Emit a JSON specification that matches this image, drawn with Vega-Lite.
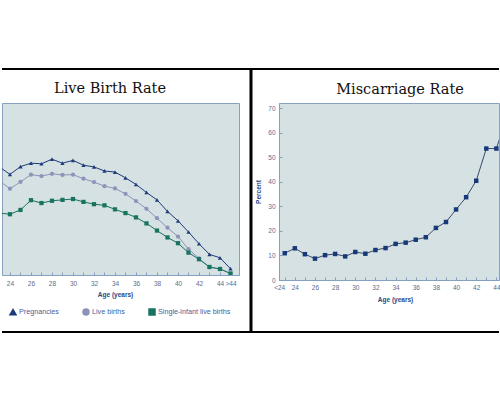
{
  "$schema": "https://vega.github.io/schema/vega-lite/v6.json",
  "background": "white",
  "padding": {"left": 0, "top": 67, "right": 0, "bottom": 0},
  "spacing": -5,
  "datasets": {
    "birth": [
      {"age": 23, "series": "Pregnancies", "rate": 37.7},
      {"age": 24, "series": "Pregnancies", "rate": 35.1},
      {"age": 25, "series": "Pregnancies", "rate": 37.8},
      {"age": 26, "series": "Pregnancies", "rate": 39.0},
      {"age": 27, "series": "Pregnancies", "rate": 38.8},
      {"age": 28, "series": "Pregnancies", "rate": 40.4},
      {"age": 29, "series": "Pregnancies", "rate": 39.0},
      {"age": 30, "series": "Pregnancies", "rate": 40.0},
      {"age": 31, "series": "Pregnancies", "rate": 38.3},
      {"age": 32, "series": "Pregnancies", "rate": 37.7},
      {"age": 33, "series": "Pregnancies", "rate": 36.3},
      {"age": 34, "series": "Pregnancies", "rate": 35.9},
      {"age": 35, "series": "Pregnancies", "rate": 33.9},
      {"age": 36, "series": "Pregnancies", "rate": 31.6},
      {"age": 37, "series": "Pregnancies", "rate": 28.8},
      {"age": 38, "series": "Pregnancies", "rate": 26.2},
      {"age": 39, "series": "Pregnancies", "rate": 22.2},
      {"age": 40, "series": "Pregnancies", "rate": 18.9},
      {"age": 41, "series": "Pregnancies", "rate": 15.0},
      {"age": 42, "series": "Pregnancies", "rate": 10.9},
      {"age": 43, "series": "Pregnancies", "rate": 7.2},
      {"age": 44, "series": "Pregnancies", "rate": 6.0},
      {"age": 45, "series": "Pregnancies", "rate": 2.2},
      {"age": 23, "series": "Live births", "rate": 32.8},
      {"age": 24, "series": "Live births", "rate": 30.1},
      {"age": 25, "series": "Live births", "rate": 32.5},
      {"age": 26, "series": "Live births", "rate": 35.0},
      {"age": 27, "series": "Live births", "rate": 34.5},
      {"age": 28, "series": "Live births", "rate": 35.3},
      {"age": 29, "series": "Live births", "rate": 34.9},
      {"age": 30, "series": "Live births", "rate": 35.0},
      {"age": 31, "series": "Live births", "rate": 33.6},
      {"age": 32, "series": "Live births", "rate": 32.4},
      {"age": 33, "series": "Live births", "rate": 31.0},
      {"age": 34, "series": "Live births", "rate": 30.2},
      {"age": 35, "series": "Live births", "rate": 28.3},
      {"age": 36, "series": "Live births", "rate": 25.8},
      {"age": 37, "series": "Live births", "rate": 23.1},
      {"age": 38, "series": "Live births", "rate": 19.8},
      {"age": 39, "series": "Live births", "rate": 16.5},
      {"age": 40, "series": "Live births", "rate": 13.4},
      {"age": 41, "series": "Live births", "rate": 9.0},
      {"age": 42, "series": "Live births", "rate": 5.8},
      {"age": 43, "series": "Live births", "rate": 2.7},
      {"age": 44, "series": "Live births", "rate": 2.1},
      {"age": 45, "series": "Live births", "rate": 0.6},
      {"age": 23, "series": "Single-infant live births", "rate": 21.6},
      {"age": 24, "series": "Single-infant live births", "rate": 21.2},
      {"age": 25, "series": "Single-infant live births", "rate": 22.7},
      {"age": 26, "series": "Single-infant live births", "rate": 26.1},
      {"age": 27, "series": "Single-infant live births", "rate": 25.1},
      {"age": 28, "series": "Single-infant live births", "rate": 25.9},
      {"age": 29, "series": "Single-infant live births", "rate": 26.2},
      {"age": 30, "series": "Single-infant live births", "rate": 26.5},
      {"age": 31, "series": "Single-infant live births", "rate": 25.5},
      {"age": 32, "series": "Single-infant live births", "rate": 24.7},
      {"age": 33, "series": "Single-infant live births", "rate": 24.3},
      {"age": 34, "series": "Single-infant live births", "rate": 22.9},
      {"age": 35, "series": "Single-infant live births", "rate": 21.6},
      {"age": 36, "series": "Single-infant live births", "rate": 20.1},
      {"age": 37, "series": "Single-infant live births", "rate": 18.0},
      {"age": 38, "series": "Single-infant live births", "rate": 15.5},
      {"age": 39, "series": "Single-infant live births", "rate": 13.1},
      {"age": 40, "series": "Single-infant live births", "rate": 11.1},
      {"age": 41, "series": "Single-infant live births", "rate": 7.8},
      {"age": 42, "series": "Single-infant live births", "rate": 5.5},
      {"age": 43, "series": "Single-infant live births", "rate": 2.8},
      {"age": 44, "series": "Single-infant live births", "rate": 2.1},
      {"age": 45, "series": "Single-infant live births", "rate": 0.5}
    ],
    "misc": [
      {"age": 23, "rate": 10.9},
      {"age": 24, "rate": 12.9},
      {"age": 25, "rate": 10.5},
      {"age": 26, "rate": 8.7},
      {"age": 27, "rate": 10.1},
      {"age": 28, "rate": 10.6},
      {"age": 29, "rate": 9.6},
      {"age": 30, "rate": 11.4},
      {"age": 31, "rate": 10.7},
      {"age": 32, "rate": 12.2},
      {"age": 33, "rate": 13.0},
      {"age": 34, "rate": 14.7},
      {"age": 35, "rate": 15.2},
      {"age": 36, "rate": 16.4},
      {"age": 37, "rate": 17.4},
      {"age": 38, "rate": 21.2},
      {"age": 39, "rate": 23.6},
      {"age": 40, "rate": 28.7},
      {"age": 41, "rate": 33.7},
      {"age": 42, "rate": 40.4},
      {"age": 43, "rate": 53.5},
      {"age": 44, "rate": 53.5},
      {"age": 45, "rate": 66.0}
    ]
  },
  "hconcat": [
    {
      "width": 237,
      "height": 172,
      "title": {"text": "Live Birth Rate", "font": "DejaVu Serif", "fontSize": 14.5, "fontWeight": "normal", "color": "#111111", "anchor": "middle", "dx": -10.5, "baseline": "alphabetic", "offset": -39},
      "layer": [
        {
          "data": {"values": [{}]},
          "mark": {"type": "rule", "stroke": "black", "strokeWidth": 2},
          "encoding": {
            "x": {"datum": 23.24, "type": "quantitative", "scale": {"domain": [23.24, 45.81]}},
            "x2": {"datum": 47.0},
            "y": {"datum": 71.86, "type": "quantitative", "scale": {"domain": [0, 60]}, "axis": null}
          }
        },
        {
          "data": {"values": [{}]},
          "mark": {"type": "rule", "stroke": "black", "strokeWidth": 2},
          "encoding": {
            "x": {"datum": 23.24, "type": "quantitative", "scale": {"domain": [23.24, 45.81]}},
            "x2": {"datum": 47.0},
            "y": {"datum": -19.88, "type": "quantitative", "scale": {"domain": [0, 60]}, "axis": null}
          }
        },
        {
          "data": {"values": [{}]},
          "mark": {"type": "rule", "stroke": "black", "strokeWidth": 2},
          "encoding": {
            "x": {"datum": 47.0, "type": "quantitative", "scale": {"domain": [23.24, 45.81]}},
            "y": {"datum": 71.86, "type": "quantitative", "scale": {"domain": [0, 60]}, "axis": null},
            "y2": {"datum": -19.88}
          }
        },
        {
          "data": {"name": "birth"},
          "mark": {"type": "line", "strokeWidth": 1, "clip": true},
          "encoding": {
            "x": {"field": "age", "type": "quantitative", "scale": {"domain": [23.24, 45.81]},
              "axis": {"title": "Age (years)", "values": [24,25,26,27,28,29,30,31,32,33,34,35,36,37,38,39,40,41,42,43,44,45], "tickCount": 100, "format": "d",
                "labelExpr": "datum.value == 23 ? '<24' : datum.value == 45 ? '>44' : (datum.value % 2 == 0 ? datum.label : '')",
                "labelOverlap": false, "labelFlush": false, "labelPadding": 8, "titleX": 113, "titleY": 21.5, "titleBaseline": "alphabetic", "titleAnchor": "middle", "titleAlign": "center"}},
            "y": {"field": "rate", "type": "quantitative", "scale": {"domain": [0, 60]}, "axis": null},
            "color": {"field": "series", "type": "nominal", "scale": {"domain": ["Pregnancies", "Live births", "Single-infant live births"], "range": ["#1f3b7a", "#8d93b9", "#187360"]},
              "legend": {"title": null, "orient": "none", "legendX": 7, "legendY": 205, "direction": "horizontal", "columnPadding": 21, "labelFont": "Liberation Sans", "labelFontSize": 7.2, "labelColor": "#41629e", "symbolSize": 36, "labelOffset": 2, "padding": 0}},
            "order": {"field": "age", "type": "quantitative"}
          }
        },
        {
          "data": {"name": "birth"},
          "mark": {"type": "point", "filled": true, "opacity": 1, "size": 18, "clip": true},
          "encoding": {
            "x": {"field": "age", "type": "quantitative", "scale": {"domain": [23.24, 45.81]}},
            "y": {"field": "rate", "type": "quantitative", "scale": {"domain": [0, 60]}, "axis": null},
            "color": {"field": "series", "type": "nominal", "scale": {"domain": ["Pregnancies", "Live births", "Single-infant live births"], "range": ["#1f3b7a", "#8d93b9", "#187360"]},
              "legend": {"title": null, "orient": "none", "legendX": 7, "legendY": 205, "direction": "horizontal", "columnPadding": 21, "labelFont": "Liberation Sans", "labelFontSize": 7.2, "labelColor": "#41629e", "symbolSize": 36, "labelOffset": 2, "padding": 0}},
            "shape": {"field": "series", "type": "nominal", "scale": {"domain": ["Pregnancies", "Live births", "Single-infant live births"], "range": ["triangle-up", "circle", "square"]},
              "legend": {"title": null, "orient": "none", "legendX": 7, "legendY": 205, "direction": "horizontal", "columnPadding": 21, "labelFont": "Liberation Sans", "labelFontSize": 7.2, "labelColor": "#41629e", "symbolSize": 36, "labelOffset": 2, "padding": 0}}
          }
        }
      ]
    },
    {
      "width": 220,
      "height": 177,
      "title": {"text": "Miscarriage Rate", "font": "DejaVu Serif", "fontSize": 14.5, "fontWeight": "normal", "color": "#111111", "anchor": "middle", "dx": 11, "baseline": "alphabetic", "offset": -41},
      "layer": [
        {
          "data": {"values": [{}]},
          "mark": {"type": "rule", "stroke": "black", "strokeWidth": 2},
          "encoding": {
            "x": {"datum": 19.6, "type": "quantitative", "scale": {"domain": [22.43, 44.26]}},
            "x2": {"datum": 44.26},
            "y": {"datum": 85.88, "type": "quantitative", "scale": {"domain": [0, 72.04]}}
          }
        },
        {
          "data": {"values": [{}]},
          "mark": {"type": "rule", "stroke": "black", "strokeWidth": 2},
          "encoding": {
            "x": {"datum": 19.6, "type": "quantitative", "scale": {"domain": [22.43, 44.26]}},
            "x2": {"datum": 44.26},
            "y": {"datum": -21.16, "type": "quantitative", "scale": {"domain": [0, 72.04]}}
          }
        },
        {
          "data": {"values": [{}]},
          "mark": {"type": "rule", "stroke": "black", "strokeWidth": 2},
          "encoding": {
            "x": {"datum": 19.6, "type": "quantitative", "scale": {"domain": [22.43, 44.26]}},
            "y": {"datum": 85.88, "type": "quantitative", "scale": {"domain": [0, 72.04]}},
            "y2": {"datum": -21.16}
          }
        },
        {
          "data": {"name": "misc"},
          "mark": {"type": "line", "strokeWidth": 1, "clip": true, "color": "#3b4a6b"},
          "encoding": {
            "x": {"field": "age", "type": "quantitative", "scale": {"domain": [22.43, 44.26]},
              "axis": {"title": "Age (years)", "values": [23,24,25,26,27,28,29,30,31,32,33,34,35,36,37,38,39,40,41,42,43,44], "tickCount": 100, "format": "d",
                "labelExpr": "datum.value == 23 ? '<24' : datum.value == 45 ? '>44' : (datum.value % 2 == 0 ? datum.label : '')",
                "labelAlign": {"condition": {"test": "datum.value == 23", "value": "right"}, "value": "center"},
                "labelOverlap": false, "labelFlush": false, "labelPadding": 7, "titleX": 116, "titleY": 21.5, "titleBaseline": "alphabetic", "titleAnchor": "middle", "titleAlign": "center"}},
            "y": {"field": "rate", "type": "quantitative", "scale": {"domain": [0, 72.04]},
              "axis": {"title": "Percent", "values": [0,10,20,30,40,50,60,70], "tickCount": 100, "format": "d", "labelPadding": 7, "titlePadding": 6, "labelFlush": false, "labelOverlap": false}}
          }
        },
        {
          "data": {"name": "misc"},
          "mark": {"type": "point", "shape": "square", "filled": true, "opacity": 1, "size": 20, "clip": true, "color": "#17397a"},
          "encoding": {
            "x": {"field": "age", "type": "quantitative", "scale": {"domain": [22.43, 44.26]}},
            "y": {"field": "rate", "type": "quantitative", "scale": {"domain": [0, 72.04]}}
          }
        }
      ]
    }
  ],
  "config": {
    "view": {"fill": "#d5e1e2", "stroke": "#86a0c0", "strokeWidth": 1},
    "axis": {"domainColor": "#86a0c0", "tickColor": "#86a0c0", "labelFont": "Liberation Sans", "labelFontSize": 6.5, "labelColor": "#5a6c90", "titleFont": "Liberation Sans", "titleFontSize": 6.5, "titleFontWeight": "bold", "titleColor": "#27498a", "grid": false, "tickSize": -3, "domainWidth": 1, "labelOverlap": false, "labelFlush": false}
  }
}
